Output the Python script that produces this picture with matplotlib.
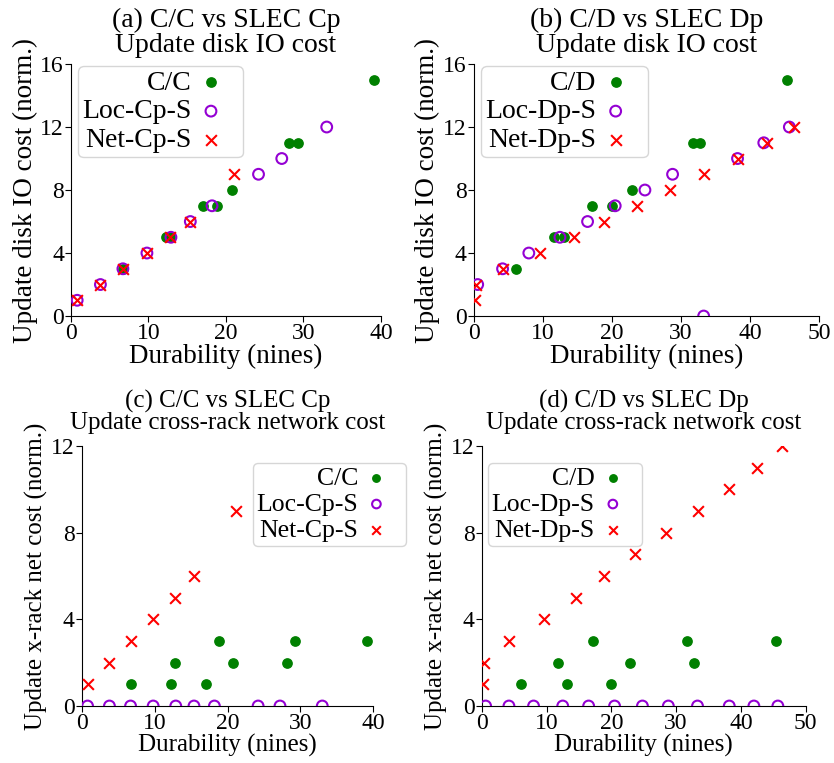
import matplotlib
matplotlib.use("Agg")
import matplotlib.pyplot as plt

plt.rcParams["font.family"] = ["Liberation Serif", "DejaVu Serif"]

###############################################################################
# data
###############################################################################
# C/C vs SLEC Cp
ccX = [6.7, 12.2, 12.8, 17.0, 18.8, 20.8, 28.1, 29.3, 39.1]
ccDisk = [3, 5, 5, 7, 7, 8, 11, 11, 15]
ccNet = [1, 1, 2, 1, 3, 2, 2, 3, 3]

locCpX = [0.8, 3.8, 6.7, 9.8, 12.9, 15.4, 18.2, 24.2, 27.2, 33.0]
locCpDisk = [1, 2, 3, 4, 5, 6, 7, 9, 10, 12]
locCpNet = [0, 0, 0, 0, 0, 0, 0, 0, 0, 0]

netCpX = [0.8, 3.8, 6.7, 9.8, 12.8, 15.4, 21.1]
netCpDisk = [1, 2, 3, 4, 5, 6, 9]
netCpNet = [1, 2, 3, 4, 5, 6, 9]

# C/D vs SLEC Dp
cdX = [6.1, 11.7, 13.1, 17.1, 20.0, 22.9, 31.7, 32.8, 45.4]
cdDisk = [3, 5, 5, 7, 7, 8, 11, 11, 15]
cdNet = [1, 2, 1, 3, 1, 2, 3, 2, 3]

locDpX = [0.6, 4.2, 8.0, 12.5, 16.5, 20.5, 24.8, 28.8, 33.3, 38.2, 42.0, 45.7]
locDpDisk = [2, 3, 4, 5, 6, 7, 8, 9, 0, 10, 11, 12]
locDpNet = [0, 0, 0, 0, 0, 0, 0, 0, 0, 0, 0, 0]

netDpX = [0.2, 0.4, 4.2, 9.6, 14.6, 18.9, 23.6, 28.4, 33.3, 38.2, 42.5, 46.4]
netDpDisk = [1, 2, 3, 4, 5, 6, 7, 8, 9, 10, 11, 12]
netDpNet = [1, 2, 3, 4, 5, 6, 7, 8, 9, 10, 11, 12]

###############################################################################
fig = plt.figure(figsize=(8.34, 7.63), dpi=100)
axA = fig.add_axes([0.0851, 0.5858, 0.3717, 0.3303])
axB = fig.add_axes([0.5678, 0.5858, 0.4143, 0.3303])
axC = fig.add_axes([0.0980, 0.0747, 0.3496, 0.3408])
axD = fig.add_axes([0.5776, 0.0747, 0.3885, 0.3408])

# top row was drawn a bit larger than the bottom row
top = dict(title=20, label=19.5, legend=20, pad=9, mscale=1.0, lsp=1.0)
bot = dict(title=18, label=18, legend=18.5, pad=12, mscale=0.8, lsp=0.95)

panels = [
    (axA, "(a) C/C vs SLEC Cp\nUpdate disk IO cost", "Update disk IO cost (norm.)",
     ["C/C", "Loc-Cp-S", "Net-Cp-S"],
     [(ccX, ccDisk), (locCpX, locCpDisk), (netCpX, netCpDisk)], 40, 16,
     "upper left", (0.0226, 0.992), top),
    (axB, "(b) C/D vs SLEC Dp\nUpdate disk IO cost", "Update disk IO cost (norm.)",
     ["C/D", "Loc-Dp-S", "Net-Dp-S"],
     [(cdX, cdDisk), (locDpX, locDpDisk), (netDpX, netDpDisk)], 50, 16,
     "upper left", (0.0217, 0.992), top),
    (axC, "(c) C/C vs SLEC Cp\nUpdate cross-rack network cost", "Update x-rack net cost (norm.)",
     ["C/C", "Loc-Cp-S", "Net-Cp-S"],
     [(ccX, ccNet), (locCpX, locCpNet), (netCpX, netCpNet)], 40, 12,
     "upper right", (1.112, 0.935), bot),
    (axD, "(d) C/D vs SLEC Dp\nUpdate cross-rack network cost", "Update x-rack net cost (norm.)",
     ["C/D", "Loc-Dp-S", "Net-Dp-S"],
     [(cdX, cdNet), (locDpX, locDpNet), (netDpX, netDpNet)], 50, 12,
     "upper left", (0.019, 0.935), bot),
]

for ax, title, ylab, names, series, xmax, ymax, loc, anchor, st in panels:
    (x1, y1), (x2, y2), (x3, y3) = series
    ax.scatter(x1, y1, s=45, color="green", marker="o", label=names[0], zorder=3)
    ax.scatter(x2, y2, s=60, facecolors="none", edgecolors="darkviolet", linewidths=1.5,
               marker="o", label=names[1], zorder=3)
    ax.scatter(x3, y3, s=60, color="red", marker="x", linewidths=1.5, label=names[2], zorder=3)
    ax.set_xlim(0, xmax)
    ax.set_ylim(0, ymax)
    ax.set_xticks(range(0, xmax + 1, 10))
    ax.set_yticks(range(0, ymax + 1, 4))
    ax.spines["top"].set_visible(False)
    ax.spines["right"].set_visible(False)
    ax.tick_params(labelsize=17, length=4, pad=1)
    ax.set_title(title, fontsize=st["title"], pad=st["pad"], linespacing=st["lsp"])
    ax.set_xlabel("Durability (nines)", fontsize=st["label"], labelpad=0)
    ax.set_ylabel(ylab, fontsize=st["label"], labelpad=2)
    ax.legend(loc=loc, bbox_to_anchor=anchor, fontsize=st["legend"], markerfirst=False,
              handletextpad=-0.3, borderpad=0.15, labelspacing=0.12,
              handlelength=2.0, borderaxespad=0.0, markerscale=st["mscale"])

fig.savefig("out.png", dpi=100)
